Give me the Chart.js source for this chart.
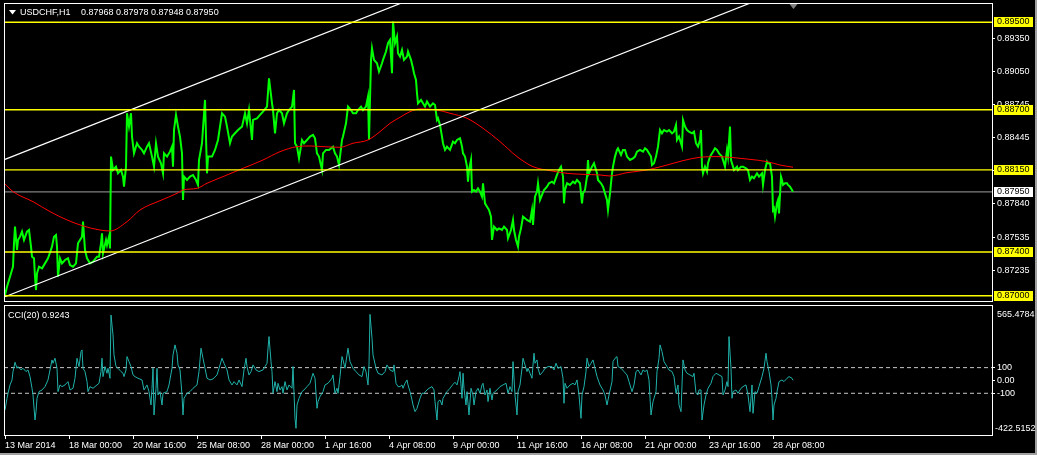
<!DOCTYPE html>
<html>
<head>
<meta charset="utf-8">
<script src="https://cdn.jsdelivr.net/npm/chart.js@4.4.0/dist/chart.umd.min.js"></script>
<style>
  html, body { margin: 0; padding: 0; background: #000; }
  #wrap { position: relative; width: 1037px; height: 455px; background: #000; overflow: hidden; }
  #main { position: absolute; left: 0; top: 0; }
  #cci { position: absolute; left: 0; top: 302px; }
  .edge { position: absolute; background: #a0a0a0; }
</style>
</head>
<body>
<div id="wrap">
  <canvas id="main" width="1037" height="302"></canvas>
  <canvas id="cci" width="1037" height="153"></canvas>
  <div class="edge" style="right:0;top:0;width:2px;height:455px"></div>
  <div class="edge" style="left:0;bottom:0;width:1037px;height:2px"></div>
</div>
<script>
/* ── data (bar number, value) ── */
const symbol = 'USDCHF,H1';
const ohlc = [0.87968, 0.87978, 0.87948, 0.87950];
const cciLabel = 'CCI(20) 0.9243';
const cciExtremes = [565.4784, -422.5152];

// time axis: a label every 64 hourly bars
const tickBars = [0, 64, 128, 192, 256, 320, 384, 448, 512, 576, 640, 704, 768];
const timeLabels = ['13 Mar 2014', '18 Mar 00:00', '20 Mar 16:00', '25 Mar 08:00', '28 Mar 00:00',
  '1 Apr 16:00', '4 Apr 08:00', '9 Apr 00:00', '11 Apr 16:00', '16 Apr 08:00', '21 Apr 00:00',
  '23 Apr 16:00', '28 Apr 08:00'];

const priceTicks = [0.8935, 0.8905, 0.88745, 0.88445, 0.88145, 0.8784, 0.87535, 0.87235];
const hLevels = [0.895, 0.887, 0.8815, 0.874, 0.870];
const channelUpper = [[0, 0.88247], [500, 0.90049]];
const channelLower = [[0, 0.86991], [900, 0.90233]];
const cciLevels = [100, -100];
const cciTicks = [100, 0, -100];

const closeSeries = [
  [0,0.87007],[2,0.87083],[5,0.87174],[8,0.87266],[9,0.87479],[10,0.87632],[12,0.87418],[13,0.87510],
  [15,0.87540],[17,0.87586],[19,0.87510],[22,0.87586],[24,0.87601],[26,0.87449],[27,0.87357],[29,0.87342],
  [30,0.87174],[31,0.87052],[32,0.87205],[34,0.87266],[37,0.87251],[40,0.87296],[43,0.87342],[47,0.87449],
  [49,0.87540],[51,0.87555],[52,0.87449],[53,0.87174],[55,0.87342],[57,0.87296],[60,0.87327],[63,0.87342],
  [65,0.87281],[68,0.87266],[71,0.87296],[73,0.87479],[75,0.87510],[77,0.87540],[78,0.87677],[80,0.87418],
  [82,0.87342],[85,0.87296],[88,0.87312],[92,0.87357],[94,0.87357],[96,0.87479],[97,0.87571],[98,0.87388],
  [101,0.87510],[102,0.87464],[104,0.87540],[105,0.87433],[106,0.88272],[108,0.88150],[111,0.88180],[113,0.88119],
  [116,0.88150],[118,0.88089],[119,0.87997],[121,0.88180],[122,0.88668],[124,0.88546],[126,0.88668],[127,0.88455],
  [129,0.88302],[132,0.88394],[134,0.88363],[137,0.88333],[139,0.88302],[142,0.88363],[144,0.88394],[147,0.88272],
  [149,0.88180],[151,0.88394],[153,0.88272],[156,0.88211],[158,0.88119],[159,0.88302],[162,0.88272],[165,0.88317],
  [167,0.88363],[168,0.88180],[169,0.88515],[171,0.88653],[173,0.88546],[175,0.88455],[177,0.88302],[178,0.87875],
  [179,0.88089],[182,0.88058],[185,0.88089],[188,0.88104],[191,0.88058],[193,0.88013],[194,0.88241],[197,0.88394],
  [198,0.88531],[200,0.88790],[202,0.88119],[203,0.88272],[207,0.88272],[210,0.88333],[213,0.88424],[215,0.88546],
  [217,0.88668],[220,0.88637],[222,0.88546],[225,0.88394],[227,0.88455],[230,0.88485],[233,0.88515],[237,0.88546],
  [240,0.88668],[242,0.88576],[244,0.88698],[247,0.88424],[248,0.88607],[252,0.88622],[255,0.88653],[258,0.88683],
  [262,0.88729],[264,0.88988],[267,0.88759],[268,0.88698],[270,0.88485],[272,0.88668],[274,0.88698],[277,0.88668],
  [279,0.88576],[282,0.88668],[284,0.88698],[287,0.88729],[289,0.88881],[290,0.88394],[292,0.88363],[294,0.88256],
  [297,0.88424],[299,0.88394],[302,0.88424],[305,0.88455],[308,0.88470],[310,0.88439],[312,0.88302],[314,0.88272],
  [317,0.88150],[318,0.88302],[321,0.88333],[324,0.88333],[328,0.88363],[330,0.88302],[332,0.88272],[334,0.88195],
  [337,0.88424],[338,0.88455],[341,0.88576],[343,0.88729],[346,0.88698],[348,0.88668],[351,0.88668],[353,0.88698],
  [356,0.88729],[358,0.88698],[361,0.88729],[363,0.88820],[364,0.88424],[366,0.89156],[367,0.89262],[369,0.89156],
  [372,0.89125],[374,0.89049],[377,0.89125],[378,0.89156],[381,0.89232],[383,0.89308],[385,0.89338],[387,0.89034],
  [388,0.89506],[390,0.89308],[392,0.89369],[393,0.89217],[395,0.89186],[397,0.89247],[399,0.89156],[402,0.89186],
  [403,0.89232],[406,0.89156],[408,0.89079],[409,0.89034],[411,0.88973],[412,0.88851],[413,0.88759],[416,0.88790],
  [418,0.88759],[420,0.88729],[422,0.88775],[425,0.88729],[428,0.88759],[430,0.88744],[432,0.88607],[433,0.88622],
  [435,0.88561],[437,0.88455],[438,0.88394],[440,0.88333],[442,0.88363],[445,0.88333],[448,0.88409],[450,0.88394],
  [452,0.88424],[455,0.88439],[457,0.88363],[458,0.88302],[460,0.88272],[462,0.88180],[463,0.88043],[464,0.88150],
  [466,0.88241],[467,0.87952],[469,0.87967],[471,0.87952],[473,0.87982],[475,0.87952],[477,0.87906],[478,0.88028],
  [480,0.87845],[482,0.87814],[484,0.87784],[486,0.87723],[487,0.87510],[489,0.87632],[492,0.87601],[494,0.87616],
  [497,0.87601],[499,0.87632],[502,0.87601],[503,0.87525],[506,0.87601],[508,0.87693],[509,0.87601],[511,0.87510],
  [513,0.87449],[514,0.87540],[516,0.87616],[518,0.87723],[520,0.87708],[522,0.87693],[525,0.87677],[527,0.87784],
  [528,0.87647],[530,0.87906],[532,0.87952],[533,0.88028],[535,0.87875],[537,0.87921],[539,0.87967],[542,0.87997],
  [544,0.88028],[547,0.88043],[549,0.88028],[552,0.88104],[554,0.88150],[556,0.88180],[558,0.88089],[559,0.87845],
  [560,0.87967],[562,0.88028],[565,0.88013],[568,0.88043],[570,0.88028],[572,0.88058],[575,0.88028],[577,0.87845],
  [578,0.87936],[580,0.87967],[582,0.88089],[583,0.88241],[584,0.88119],[587,0.88180],[589,0.88211],[592,0.88119],
  [593,0.88058],[596,0.88028],[598,0.87997],[600,0.87936],[602,0.87875],[603,0.87784],[605,0.87936],[607,0.88119],
  [608,0.88180],[610,0.88272],[612,0.88333],[613,0.88348],[616,0.88287],[618,0.88333],[620,0.88333],[622,0.88272],
  [625,0.88241],[628,0.88256],[630,0.88272],[632,0.88317],[635,0.88333],[638,0.88317],[640,0.88348],[642,0.88333],
  [644,0.88302],[646,0.88272],[647,0.88195],[649,0.88211],[651,0.88272],[653,0.88363],[655,0.88515],[657,0.88485],
  [659,0.88515],[662,0.88500],[664,0.88515],[667,0.88485],[669,0.88500],[671,0.88561],[672,0.88424],[674,0.88455],
  [677,0.88363],[678,0.88607],[680,0.88546],[682,0.88515],[684,0.88500],[687,0.88485],[689,0.88500],[691,0.88394],
  [693,0.88363],[695,0.88424],[696,0.88515],[697,0.88180],[698,0.88119],[700,0.88180],[702,0.88134],[703,0.88211],
  [705,0.88272],[708,0.88317],[710,0.88348],[712,0.88333],[714,0.88302],[717,0.88272],[718,0.88241],[720,0.88180],
  [722,0.88333],[723,0.88272],[725,0.88546],[726,0.88241],[728,0.88180],[729,0.88150],[732,0.88180],[733,0.88150],
  [736,0.88180],[738,0.88180],[741,0.88165],[743,0.88150],[745,0.88058],[747,0.88089],[749,0.88074],[752,0.88119],
  [754,0.88089],[757,0.88119],[758,0.88013],[760,0.88150],[762,0.88226],[763,0.88211],[765,0.88211],[767,0.88089],
  [768,0.87784],[769,0.87799],[770,0.87723],[772,0.87845],[773,0.87875],[774,0.87753],[776,0.88089],[777,0.88058],
  [778,0.88013],[780,0.88028],[782,0.88028],[783,0.88013],[785,0.87997],[787,0.87967],[788,0.87950]
];

const maSeries = [
  [0,0.88022],[8,0.87952],[28,0.87860],[45,0.87769],[62,0.87693],[78,0.87638],[95,0.87601],[105,0.87592],
  [122,0.87677],[135,0.87784],[155,0.87869],[172,0.87936],[178,0.87967],[192,0.87982],[202,0.88028],[218,0.88089],
  [238,0.88165],[258,0.88241],[275,0.88317],[292,0.88363],[305,0.88369],[318,0.88363],[335,0.88357],[348,0.88394],
  [363,0.88424],[375,0.88500],[385,0.88576],[395,0.88631],[405,0.88683],[415,0.88708],[432,0.88698],[445,0.88668],
  [462,0.88622],[478,0.88531],[495,0.88409],[512,0.88272],[528,0.88180],[545,0.88144],[562,0.88119],[578,0.88110],
  [595,0.88104],[605,0.88095],[622,0.88125],[642,0.88150],[662,0.88195],[678,0.88235],[695,0.88266],[712,0.88272],
  [728,0.88263],[745,0.88247],[762,0.88226],[775,0.88195],[788,0.88175]
];

const cciSeries = [
  [0,-230],[2,-139],[3,-100],[5,-35],[7,4],[8,69],[10,142],[12,95],[13,108],[16,82],[18,95],[21,69],[23,82],
  [25,30],[27,-61],[28,-113],[30,-308],[31,-243],[32,-139],[34,-87],[37,-74],[40,-48],[43,4],[45,82],[47,160],
  [48,134],[50,173],[52,95],[53,-87],[55,-35],[57,-48],[60,-35],[63,-9],[65,-74],[68,-61],[70,17],[72,173],
  [74,108],[76,225],[77,238],[78,95],[80,69],[82,-9],[83,-87],[85,-48],[88,-61],[92,-35],[94,-22],[96,69],
  [97,173],[98,30],[100,108],[102,56],[103,95],[105,17],[106,510],[108,355],[109,199],[111,108],[113,95],
  [116,69],[118,56],[119,30],[121,82],[122,186],[124,147],[126,108],[128,43],[130,30],[133,17],[137,4],
  [139,-74],[142,-35],[144,-87],[146,-191],[147,-61],[148,95],[149,-269],[151,-61],[152,95],[153,-113],
  [155,-87],[157,-191],[158,-100],[162,-87],[164,-35],[167,95],[168,199],[170,277],[172,212],[173,121],
  [175,82],[177,-113],[178,-269],[179,-139],[182,-100],[185,-87],[188,-61],[192,-35],[194,69],[195,160],
  [196,251],[198,173],[200,95],[202,17],[205,4],[208,12],[212,43],[214,95],[217,173],[219,134],[222,82],
  [224,4],[227,-35],[229,-9],[232,-35],[234,4],[237,-48],[239,82],[241,173],[242,108],[244,43],[246,69],
  [248,121],[251,82],[254,69],[258,82],[260,108],[262,134],[263,251],[264,342],[266,147],[267,69],[268,-100],
  [270,-9],[272,-87],[273,-22],[275,-74],[277,-48],[278,-100],[280,-9],[282,-74],[284,-35],[287,-61],[288,108],
  [290,-295],[291,-373],[292,-191],[294,-139],[297,-87],[299,-74],[302,-48],[305,-22],[308,56],[310,17],
  [312,-217],[313,-165],[315,-126],[318,-87],[320,-35],[323,-22],[327,17],[328,43],[330,-100],[332,-61],
  [333,-100],[335,30],[337,186],[338,160],[340,95],[342,199],[343,251],[345,147],[348,95],[351,69],[354,43],
  [357,30],[359,108],[361,69],[363,-35],[364,121],[365,515],[367,329],[368,199],[371,95],[373,56],[377,43],
  [380,69],[382,121],[385,82],[388,69],[389,121],[391,-22],[393,-48],[395,-48],[397,-35],[398,-61],[400,-22],
  [402,4],[403,-35],[405,-87],[407,-152],[408,-191],[410,-243],[412,-217],[413,-191],[415,-139],[417,-100],
  [419,-100],[422,-74],[424,-61],[427,-48],[429,-74],[430,-165],[432,-308],[433,-165],[435,-152],[437,-191],
  [438,-139],[440,-113],[442,-87],[445,-61],[448,-30],[450,-14],[452,-35],[454,30],[455,69],[457,-139],
  [458,56],[459,-61],[461,-191],[462,-87],[464,-269],[466,-61],[468,-113],[469,-191],[471,-87],[473,-61],
  [475,-100],[477,-35],[478,-22],[480,-113],[482,-74],[483,-165],[485,-61],[487,-152],[488,-100],[492,-74],
  [495,-48],[498,-35],[501,-22],[503,-100],[505,-48],[507,-87],[508,147],[510,-113],[512,-269],[513,-87],
  [515,-35],[517,95],[518,173],[520,121],[522,69],[523,95],[525,56],[527,17],[528,121],[529,212],[530,134],
  [532,160],[533,95],[535,43],[538,69],[540,95],[543,108],[547,108],[549,82],[551,134],[553,95],[556,108],
  [558,17],[559,-178],[560,-22],[562,-61],[565,-35],[568,-22],[570,-35],[572,4],[574,-113],[576,-295],
  [577,-113],[579,-48],[581,69],[582,173],[584,108],[586,134],[588,160],[590,95],[592,30],[595,-35],[598,-74],
  [600,-113],[602,-191],[604,-113],[607,-9],[608,147],[610,173],[612,186],[613,108],[616,95],[619,69],[622,43],
  [624,-9],[627,-87],[629,-35],[631,69],[633,82],[636,43],[638,82],[640,69],[642,82],[644,4],[646,-269],
  [648,-165],[649,-139],[651,-87],[652,69],[654,173],[655,277],[657,225],[659,147],[662,108],[664,82],[667,69],
  [669,30],[671,-100],[673,-35],[674,-191],[676,-243],[677,-35],[678,160],[680,82],[682,56],[685,43],[688,30],
  [689,56],[691,-100],[693,-113],[694,-74],[696,-74],[697,-308],[699,-191],[701,-113],[703,-61],[706,-22],
  [708,30],[711,56],[714,43],[717,30],[718,-113],[720,-74],[722,-9],[723,-48],[724,342],[726,95],[727,-139],
  [728,-87],[731,-74],[733,-100],[736,-61],[738,-48],[741,-35],[743,-113],[745,-243],[747,-35],[748,-256],
  [750,-87],[752,-100],[754,-48],[757,30],[759,95],[761,212],[762,147],[764,69],[766,-35],[767,-139],
  [768,-308],[769,-191],[771,-139],[772,-87],[774,-9],[777,4],[779,-9],[782,17],[784,30],[787,17],[788,0.9243]
];

/* ── shared look ── */
const FONT = '"Liberation Sans", Arial, sans-serif';
Chart.defaults.font.family = FONT;
Chart.defaults.font.size = 9;
Chart.defaults.color = '#ffffff';

const X_MIN = -1, X_MAX = 987;   // one pixel per hourly bar
const AXIS_W = 45;
const lastClose = closeSeries[closeSeries.length - 1][1];
const lastBar = closeSeries[closeSeries.length - 1][0];

const toXY = pairs => pairs.map(p => ({ x: p[0], y: p[1] }));
const flat = (v, color, extra) => Object.assign({
  data: [{ x: X_MIN, y: v }, { x: X_MAX, y: v }],
  borderColor: color, borderWidth: 1.3, pointRadius: 0
}, extra || {});

// stop Chart.js from reserving room for half a label at each end of an axis
const noEdgePad = s => { s.paddingTop = 0; s.paddingBottom = 0; s.paddingLeft = 0; s.paddingRight = 0; };

// white frame round each plot area, like the terminal draws it
const framePlugin = {
  id: 'frame',
  afterDraw(chart) {
    const { ctx, chartArea: a } = chart;
    ctx.save();
    ctx.strokeStyle = '#ffffff';
    ctx.lineWidth = 1;
    ctx.strokeRect(a.left + 0.5, a.top + 0.5, a.right - a.left, a.bottom - a.top);
    ctx.restore();
  }
};

// yellow level tags, bid tag, header line
const priceTagPlugin = {
  id: 'priceTags',
  afterDraw(chart) {
    const { ctx, chartArea: a, scales: { x, y } } = chart;
    ctx.save();
    ctx.font = '9px ' + FONT;
    ctx.textBaseline = 'middle';
    const tag = (v, bg) => {
      const py = Math.round(y.getPixelForValue(v));
      ctx.fillStyle = bg;
      ctx.fillRect(a.right + 2, py - 5, 39, 10);
      ctx.fillStyle = '#000';
      ctx.fillText(v.toFixed(5), a.right + 5, py);
    };
    hLevels.forEach(v => tag(v, '#ffff00'));
    tag(lastClose, '#ffffff');

    // header: triangle + symbol + OHLC
    ctx.fillStyle = '#ffffff';
    ctx.beginPath();
    ctx.moveTo(9, 10); ctx.lineTo(16, 10); ctx.lineTo(12.5, 14.5); ctx.closePath();
    ctx.fill();
    ctx.fillText(symbol, 20, 13);
    ctx.fillText(ohlc.map(v => v.toFixed(5)).join(' '), 81, 13);

    // chart shift marker at the last bar
    const sx = Math.round(x.getPixelForValue(lastBar)) + 0.5;
    ctx.fillStyle = '#808080';
    ctx.beginPath();
    ctx.moveTo(sx - 4, a.top + 1); ctx.lineTo(sx + 4, a.top + 1); ctx.lineTo(sx, a.top + 6); ctx.closePath();
    ctx.fill();
    ctx.restore();
  }
};

const cciTextPlugin = {
  id: 'cciText',
  afterDraw(chart) {
    const { ctx, chartArea: a } = chart;
    ctx.save();
    ctx.font = '9px ' + FONT;
    ctx.textBaseline = 'middle';
    ctx.fillStyle = '#ffffff';
    ctx.fillText(cciLabel, 8, a.top + 11);
    ctx.fillText(cciExtremes[0].toFixed(4), a.right + 5, a.top + 10);
    ctx.fillText(cciExtremes[1].toFixed(4), a.right + 3, a.bottom - 6);
    ctx.restore();
  }
};

/* ── price window ── */
new Chart(document.getElementById('main'), {
  type: 'line',
  data: {
    datasets: [
      ...hLevels.map(v => flat(v, '#ffff00')),
      { data: toXY(channelUpper), borderColor: '#ffffff', borderWidth: 1.2, pointRadius: 0 },
      { data: toXY(channelLower), borderColor: '#ffffff', borderWidth: 1.2, pointRadius: 0 },
      { data: toXY(maSeries), borderColor: '#ff0000', borderWidth: 1, pointRadius: 0, cubicInterpolationMode: 'monotone' },
      { data: toXY(closeSeries), borderColor: '#00ff00', borderWidth: 2, pointRadius: 0 },
      flat(lastClose, '#808080')
    ]
  },
  options: {
    responsive: false,
    animation: false,
    devicePixelRatio: 1,
    layout: { padding: { left: 4, top: 3, right: 0, bottom: 1 } },
    plugins: { legend: { display: false }, tooltip: { enabled: false } },
    elements: { line: { tension: 0 } },
    scales: {
      x: { type: 'linear', min: X_MIN, max: X_MAX, display: false },
      y: {
        position: 'right',
        min: 0.86952, max: 0.89676,
        afterFit(s) { s.width = AXIS_W; noEdgePad(s); },
        afterBuildTicks(s) { s.ticks = priceTicks.map(v => ({ value: v })); },
        ticks: { autoSkip: false, padding: 2, callback: v => v.toFixed(5) },
        grid: { drawOnChartArea: false, tickLength: 3, color: '#ffffff' },
        border: { display: false }
      }
    }
  },
  plugins: [framePlugin, priceTagPlugin]
});

/* ── CCI window ── */
new Chart(document.getElementById('cci'), {
  type: 'line',
  data: {
    datasets: [
      { data: toXY(cciSeries), borderColor: '#20b2aa', borderWidth: 1, pointRadius: 0 },
      ...cciLevels.map(v => flat(v, '#c8c8c8', { borderWidth: 1, borderDash: [4, 3] }))
    ]
  },
  options: {
    responsive: false,
    animation: false,
    devicePixelRatio: 1,
    layout: { padding: { left: 4, top: 3, right: 0, bottom: 0 } },
    plugins: { legend: { display: false }, tooltip: { enabled: false } },
    elements: { line: { tension: 0 } },
    scales: {
      x: {
        type: 'linear', min: X_MIN, max: X_MAX,
        afterFit(s) { s.height = 20; noEdgePad(s); },
        afterBuildTicks(s) { s.ticks = tickBars.map(v => ({ value: v })); },
        ticks: { autoSkip: false, maxRotation: 0, minRotation: 0, align: 'start', padding: 1,
                 callback: (v, i) => timeLabels[i] },
        grid: { drawOnChartArea: false, tickLength: 4, color: '#ffffff' },
        border: { display: false }
      },
      y: {
        position: 'right',
        min: -425, max: 588,
        afterFit(s) { s.width = AXIS_W; noEdgePad(s); },
        afterBuildTicks(s) { s.ticks = cciTicks.map(v => ({ value: v })); },
        ticks: { autoSkip: false, padding: 2, callback: v => (v === 0 ? '0.00' : String(v)) },
        grid: { drawOnChartArea: false, tickLength: 3, color: '#ffffff' },
        border: { display: false }
      }
    }
  },
  plugins: [framePlugin, cciTextPlugin]
});
</script>
</body>
</html>
